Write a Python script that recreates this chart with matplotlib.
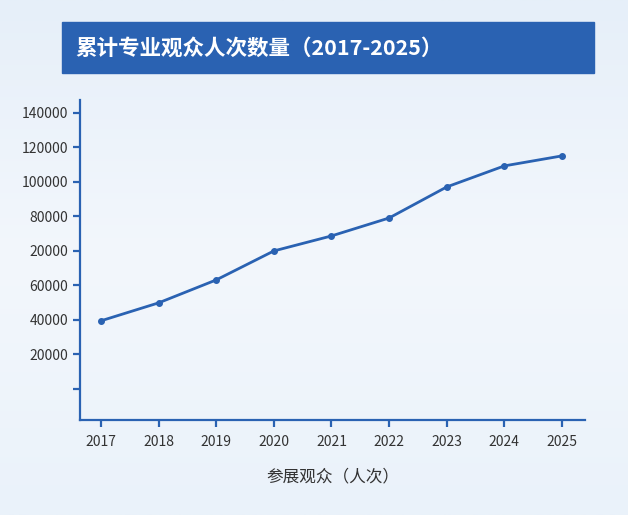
import matplotlib.pyplot as plt
import numpy as np
from matplotlib.patches import Rectangle

plt.rcParams["font.family"] = ["Noto Sans CJK SC", "DejaVu Sans"]

BLUE = "#2a62b2"
years = [2017, 2018, 2019, 2020, 2021, 2022, 2023, 2024, 2025]
visitors = [39500, 49900, 63200, 80000, 88700, 99100, 117100, 129300, 135100]
tick_vals = [20000, 40000, 60000, 80000, 100000, 120000, 140000, 160000]
tick_labels = ["20000", "40000", "60000", "20000", "80000", "100000", "120000", "140000"]

fig = plt.figure(figsize=(6.28, 5.15), dpi=100)

# light blue gradient background
bg = fig.add_axes([0, 0, 1, 1], zorder=-10)
grad = np.linspace(0, 1, 256).reshape(-1, 1)
bg.imshow(grad, aspect="auto", cmap=plt.matplotlib.colors.LinearSegmentedColormap.from_list(
    "bg", ["#e6eff9", "#f3f7fc", "#eaf2fa"]), extent=[0, 1, 0, 1])
bg.axis("off")

# title box
fig.patches.append(Rectangle((62 / 628, 1 - 73 / 515), 532 / 628, 51 / 515,
                             transform=fig.transFigure, color=BLUE, zorder=0))
fig.text(75 / 628, 1 - 48 / 515, "累计专业观众人次数量（2017-2025）", color="white",
         fontsize=15.5, fontweight="bold", va="center", ha="left")

ax = fig.add_axes([80 / 628, 1 - 420 / 515, 505 / 628, 320 / 515])
ax.patch.set_alpha(0)
ax.plot(years, visitors, color=BLUE, lw=2, marker="o", ms=4)
ax.set_xlim(2017 - 0.364, 2025 + 0.4)
ax.set_ylim(-18000, 167500)
ax.set_xticks(years)
ax.set_yticks([0] + tick_vals)
ax.set_yticklabels([""] + tick_labels)
for s in ["top", "right"]:
    ax.spines[s].set_visible(False)
for s in ["left", "bottom"]:
    ax.spines[s].set_color(BLUE)
    ax.spines[s].set_linewidth(1.6)
ax.tick_params(colors=BLUE, width=1.6, length=5, labelcolor="#333333", labelsize=10)
ax.tick_params(axis="x", pad=6)
ax.set_xlabel("参展观众（人次）", fontsize=12, color="#333333", labelpad=14)

fig.savefig("out.png", dpi=100)
